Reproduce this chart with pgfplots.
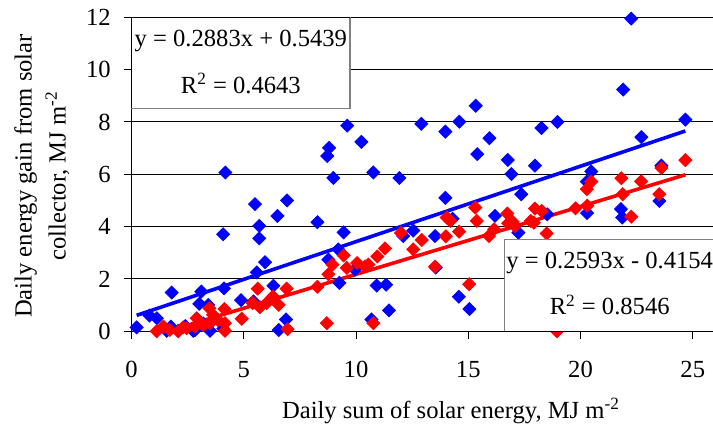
\documentclass[border=0pt]{standalone}
\usepackage{fontspec}
\setmainfont{Liberation Serif}
\usepackage{pgfplots}
\pgfplotsset{compat=1.18}

\begin{document}
\fontsize{12.3}{14.8}\selectfont
\begin{tikzpicture}[font=\fontsize{12.3}{14.8}\selectfont]
\begin{axis}[
  at={(0,0)}, anchor=south west,
  scale only axis, width=290.75pt, height=157pt,
  xmin=0, xmax=25.9, ymin=0, ymax=12,
  axis lines*=left,
  axis line style={-, black, line width=0.6pt},
  xtick={0,5,...,25}, ytick={0,2,...,12},
  ymajorgrids, major grid style={black, line width=0.5pt},
  tick align=outside, major tick length=3.75pt,
  tick style={black, line width=0.5pt},
  /pgf/number format/assume math mode=true,
  xticklabel style={yshift=-7pt},
  yticklabel style={xshift=-2.3pt},
  clip=false,
  mark size=2.3pt,
]
\addplot[only marks, mark=square*, color=blue, mark options={rotate=45}] coordinates {
(0.23,0.15) (0.80,0.60) (1.13,0.50) (1.57,0.02) (1.75,0.18) (1.79,1.48) (2.08,0.02)
(2.40,0.20) (2.75,0.02) (2.83,0.05) (3.02,1.05) (3.11,1.52) (3.20,0.30) (3.42,1.01)
(3.50,0.02) (4.09,0.10) (4.12,1.64) (4.08,3.71) (4.18,6.07) (4.88,1.19) (5.43,1.14)
(5.50,4.86) (5.58,2.25) (5.69,4.03) (5.69,3.55) (5.95,2.64) (6.32,1.74) (6.50,4.41)
(6.56,0.05) (6.88,0.45) (6.93,5.00) (8.28,4.17) (8.72,6.70) (8.80,7.01) (8.77,2.74)
(8.99,5.86) (9.21,3.13) (9.26,1.85) (9.45,3.78) (9.61,7.86) (9.96,2.36) (10.24,7.24)
(10.69,0.45) (10.77,6.07) (10.92,1.75) (11.34,1.78) (11.47,0.80) (11.93,5.86)
(12.10,3.64) (12.55,3.85) (12.91,7.93) (13.52,3.64) (13.55,2.44) (13.98,5.10)
(13.98,7.63) (14.30,4.30) (14.58,1.32) (14.60,8.01) (15.05,0.85) (15.33,8.62)
(15.40,6.77) (15.94,7.38) (16.19,4.41) (16.76,6.55) (16.92,6.01) (17.23,3.77)
(17.36,5.24) (17.97,6.33) (18.26,7.77) (18.52,4.47) (18.97,8.00) (20.28,5.72)
(20.29,4.52) (20.48,6.11) (21.80,4.67) (21.86,4.35) (21.90,9.24) (22.26,11.95)
(22.71,7.42) (23.51,4.98) (23.60,6.33) (24.67,8.09)
};
\addplot[only marks, mark=square*, color=red, mark options={rotate=45}] coordinates {
(1.12,0.00) (1.42,0.18) (1.71,0.05) (2.08,0.00) (2.30,0.15) (2.46,0.12) (2.83,0.18)
(2.90,0.50) (3.20,0.24) (3.47,0.88) (3.50,0.31) (3.63,0.63) (3.85,0.43) (4.14,0.85)
(4.16,0.31) (4.16,0.02) (4.91,0.48) (5.40,1.08) (5.62,1.63) (5.72,0.92) (6.02,1.08)
(6.30,1.33) (6.56,1.01) (6.91,1.63) (6.95,0.08) (8.28,1.70) (8.70,0.31) (8.77,2.18)
(8.95,2.55) (9.45,2.90) (9.59,2.42) (10.05,2.61) (10.40,2.48) (10.55,2.55)
(10.77,0.31) (10.95,2.86) (11.29,3.17) (12.00,3.76) (12.55,3.13) (12.93,3.49)
(13.52,2.47) (14.00,3.63) (14.04,4.35) (14.20,4.22) (14.59,3.81) (15.04,1.80)
(15.31,4.73) (15.38,4.22) (15.92,3.64) (16.15,3.90) (16.74,4.50) (16.78,4.13)
(16.98,4.18) (17.08,4.02) (17.78,4.22) (17.92,4.15) (17.97,4.69) (18.27,4.60)
(18.49,3.74) (18.95,0.00) (19.78,4.70) (20.28,5.43) (20.30,4.80) (20.48,5.72)
(21.82,5.85) (21.88,5.24) (22.26,4.38) (22.70,5.73) (23.51,5.24) (23.60,6.24)
(24.67,6.54)
};
\addplot[blue, line width=1.8pt, no marks] coordinates {(0.23,0.6102) (24.67,7.6563)};
\addplot[red, line width=1.8pt, no marks] coordinates {(1.602,0) (24.67,5.9815)};
\coordinate (A1) at (axis cs:0,8.52);
\coordinate (A2) at (axis cs:9.73,12);
\coordinate (A3) at (axis cs:4.87,11.09);
\coordinate (A4) at (axis cs:4.87,9.47);
\coordinate (B1) at (axis cs:16.6,0);
\coordinate (B2) at (axis cs:27,3.51);
\coordinate (B3) at (axis cs:21.3,2.63);
\coordinate (B4) at (axis cs:21.3,1.01);
\end{axis}
% equation boxes, drawn on top of the data
\draw[gray, line width=0.7pt, fill=white] (A1) rectangle (A2);
\draw[black, line width=0.6pt] (A1) -- (A1 |- A2) -- (A2);
\node at (A3) {y = 0.2883x + 0.5439};
\node at (A4) {R\textsuperscript{2} = 0.4643};
\draw[gray, line width=0.7pt, fill=white] (B1) rectangle (B2);
\draw[black, line width=0.6pt] (B1) -- (B1 -| B2);
\node at (B3) {y = 0.2593x - 0.4154};
\node at (B4) {R\textsuperscript{2} = 0.8546};
\node[rotate=90, anchor=base] at (-49.9pt,77.65pt) {Daily energy gain from solar};
\node[rotate=90, anchor=base] at (-32.9pt,77.65pt) {collector, MJ m\textsuperscript{-2}};
\node[anchor=base] at (159.75pt,-43.35pt) {Daily sum of solar energy, MJ m\textsuperscript{-2}};
\pgfresetboundingbox
\path[use as bounding box] (-65.75pt,-46.85pt) rectangle (290.75pt,165.65pt);
\end{tikzpicture}
\end{document}
